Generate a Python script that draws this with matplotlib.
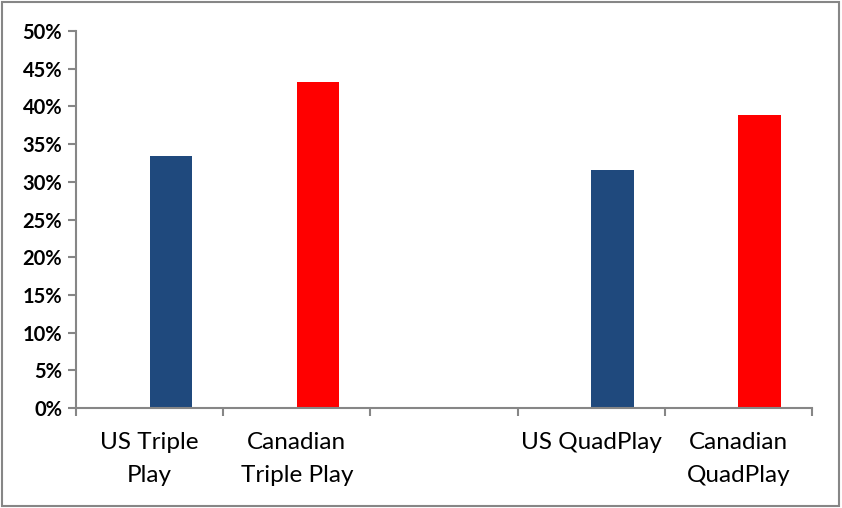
import matplotlib
matplotlib.use('Agg')
import matplotlib.pyplot as plt
from matplotlib.patches import Rectangle
from matplotlib.ticker import PercentFormatter

categories = ['US Triple\nPlay', 'Canadian\nTriple Play', '', 'US QuadPlay', 'Canadian\nQuadPlay']
values = [33.4, 43.2, None, 31.6, 38.9]
colors = ['#1F497D', '#FF0000', None, '#1F497D', '#FF0000']
y_ticks = [0, 5, 10, 15, 20, 25, 30, 35, 40, 45, 50]

axis_gray = '#868686'

fig = plt.figure(figsize=(8.42, 5.08), dpi=100)
ax = fig.add_axes([76 / 842, 100 / 508, 736 / 842, 377 / 508])

for i, (v, c) in enumerate(zip(values, colors)):
    if v is None:
        continue
    ax.bar(i, v, width=0.29, align='edge', color=c)

ax.set_xlim(-0.5, len(categories) - 0.5)
ax.set_ylim(0, 50)
ax.set_yticks(y_ticks)
ax.yaxis.set_major_formatter(PercentFormatter(decimals=0))

ax.set_xticks(range(len(categories)))
ax.set_xticklabels(categories, fontsize=17.5, family='Lato', linespacing=1.75)
ax.set_xticks([i - 0.5 for i in range(len(categories) + 1)], minor=True)
ax.tick_params(axis='x', which='major', length=0, pad=17)
ax.tick_params(axis='x', which='minor', length=6, width=1.5, color=axis_gray)
ax.tick_params(axis='y', length=6, width=1.5, color=axis_gray, pad=4)
for lbl in ax.get_yticklabels():
    lbl.set_fontweight('bold')
    lbl.set_fontsize(14.5)
    lbl.set_family('Lato')

for side in ['top', 'right']:
    ax.spines[side].set_visible(False)
for side in ['left', 'bottom']:
    ax.spines[side].set_color(axis_gray)
    ax.spines[side].set_linewidth(1.5)

fig.patches.append(Rectangle((2 / 842, 2 / 508), 837 / 842, 504 / 508,
                             transform=fig.transFigure, fill=False,
                             edgecolor=axis_gray, linewidth=1.5))

fig.savefig('out.png', dpi=100)
